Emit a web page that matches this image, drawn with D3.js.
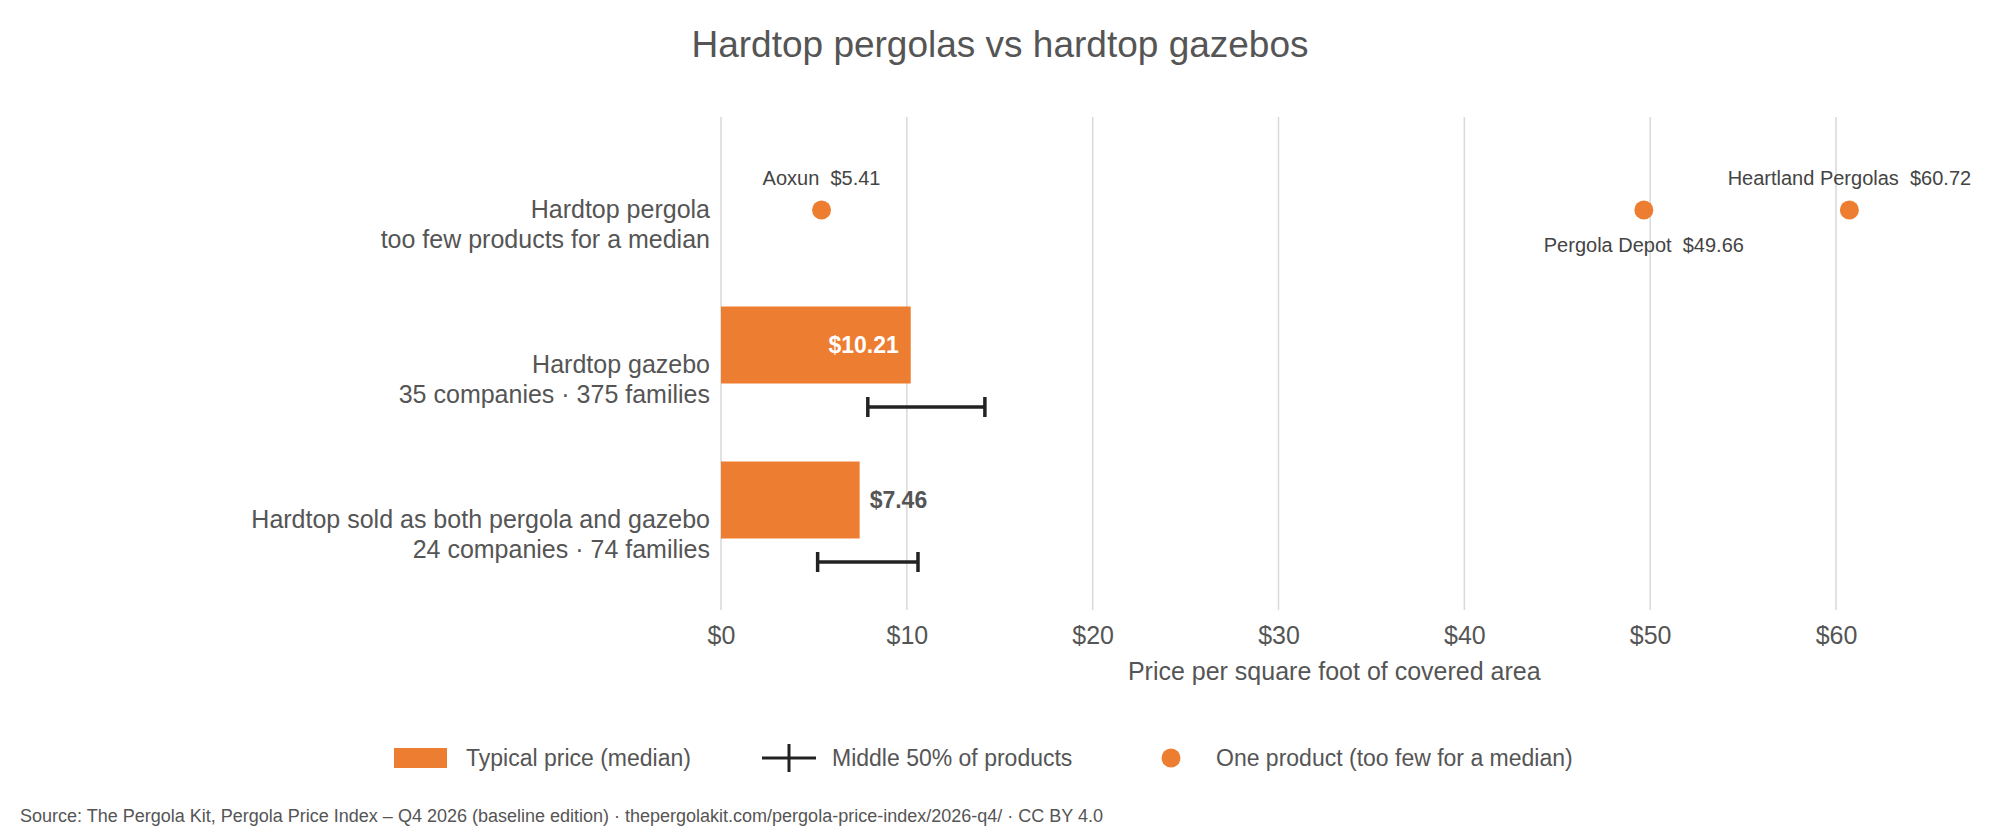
<!DOCTYPE html>
<html>
<head>
<meta charset="utf-8">
<script src="https://cdn.jsdelivr.net/npm/d3@7"></script>
<style>
  body { margin: 0; background: #fff; }
  text { font-family: "Liberation Sans", Arial, sans-serif; }
</style>
</head>
<body>
<svg id="chart" width="2000" height="840"></svg>
<script>
// data
var categories = ["Hardtop pergola", "Hardtop gazebo", "Hardtop sold as both pergola and gazebo"];
var subtitles = ["too few products for a median", "35 companies · 375 families", "24 companies · 74 families"];
var medians = [null, 10.21, 7.46];
var q1 = [null, 7.9, 5.2];
var q3 = [null, 14.2, 10.6];
var singleNames = ["Aoxun", "Pergola Depot", "Heartland Pergolas"];
var singleValues = [5.41, 49.66, 60.72];
var singleLabelAbove = [true, false, true];
var xTicks = [0, 10, 20, 30, 40, 50, 60];

var svg = d3.select("#chart");
var orange = "#ED7D31", grey = "#555555";

var x = d3.scaleLinear().domain([0, 60]).range([721, 1836]);
var y = d3.scalePoint().domain(categories).range([223, 533]);

// title
svg.append("text").attr("x", 1000).attr("y", 57).attr("text-anchor", "middle")
    .style("font-size", "37px").style("fill", grey).text("Hardtop pergolas vs hardtop gazebos");

// gridlines
svg.append("g").selectAll("line").data(xTicks).enter().append("line")
    .attr("x1", function (d) { return x(d); }).attr("x2", function (d) { return x(d); })
    .attr("y1", 117).attr("y2", 610)
    .style("stroke", "#d9d9d9").style("stroke-width", 1.5);

// x axis
var xAxis = svg.append("g").attr("transform", "translate(0,610)")
    .call(d3.axisBottom(x).tickValues(xTicks).tickSize(0).tickPadding(16).tickFormat(function (d) { return "$" + d; }));
xAxis.select(".domain").remove();
xAxis.selectAll("text").style("font-size", "25px").style("fill", grey)
    .style("font-family", "Liberation Sans, Arial, sans-serif");
svg.append("text").attr("x", x(33)).attr("y", 680).attr("text-anchor", "middle")
    .style("font-size", "25px").style("fill", grey).text("Price per square foot of covered area");

// category labels
var lab = svg.append("g").selectAll("text").data(categories).enter().append("text")
    .attr("x", 710).attr("y", function (d) { return y(d); }).attr("text-anchor", "end")
    .style("font-size", "25px").style("fill", grey);
lab.append("tspan").attr("x", 710).attr("dy", "-0.2em").text(function (d) { return d; });
lab.append("tspan").attr("x", 710).attr("dy", "1.2em").text(function (d, i) { return subtitles[i]; });

// bars
var rows = categories.map(function (c, i) { return { cat: c, med: medians[i], lo: q1[i], hi: q3[i] }; })
    .filter(function (d) { return d.med !== null; });
var barH = 77;
svg.append("g").selectAll("rect").data(rows).enter().append("rect")
    .attr("x", x(0)).attr("y", function (d) { return y(d.cat) - 33 - barH / 2; })
    .attr("width", function (d) { return x(d.med) - x(0); }).attr("height", barH)
    .style("fill", orange);
svg.append("g").selectAll("text").data(rows).enter().append("text")
    .attr("x", function (d) { return d.med > 9 ? x(d.med) - 12 : x(d.med) + 10; })
    .attr("y", function (d) { return y(d.cat) - 33; }).attr("dy", "0.35em")
    .attr("text-anchor", function (d) { return d.med > 9 ? "end" : "start"; })
    .style("font-size", "23px").style("font-weight", "bold")
    .style("fill", function (d) { return d.med > 9 ? "#fff" : grey; })
    .text(function (d) { return "$" + d.med.toFixed(2); });

// IQR whiskers
var err = svg.append("g").selectAll("g").data(rows).enter().append("g")
    .attr("transform", function (d) { return "translate(0," + (y(d.cat) + 29) + ")"; })
    .style("stroke", "#222").style("stroke-width", 3.5);
err.append("line").attr("x1", function (d) { return x(d.lo); }).attr("x2", function (d) { return x(d.hi); });
err.append("line").attr("x1", function (d) { return x(d.lo); }).attr("x2", function (d) { return x(d.lo); }).attr("y1", -10).attr("y2", 10);
err.append("line").attr("x1", function (d) { return x(d.hi); }).attr("x2", function (d) { return x(d.hi); }).attr("y1", -10).attr("y2", 10);

// single products
var py = y(categories[0]) - 13;
svg.append("g").selectAll("circle").data(singleValues).enter().append("circle")
    .attr("cx", function (d) { return x(d); }).attr("cy", py).attr("r", 9.5).style("fill", orange);
svg.append("g").selectAll("text").data(singleValues).enter().append("text")
    .attr("x", function (d) { return x(d); })
    .attr("y", function (d, i) { return singleLabelAbove[i] ? py - 25 : py + 42; })
    .attr("text-anchor", "middle").style("font-size", "20px").style("fill", "#444")
    .attr("xml:space", "preserve")
    .text(function (d, i) { return singleNames[i] + "  $" + d.toFixed(2); });

// legend
var lg = svg.append("g").attr("transform", "translate(0,758)");
lg.append("rect").attr("x", 394).attr("y", -10).attr("width", 53).attr("height", 20).style("fill", orange);
lg.append("text").attr("x", 466).attr("dy", "0.35em").style("font-size", "23px").style("fill", grey).text("Typical price (median)");
lg.append("line").attr("x1", 762).attr("x2", 816).style("stroke", "#222").style("stroke-width", 3);
lg.append("line").attr("x1", 789).attr("x2", 789).attr("y1", -14).attr("y2", 14).style("stroke", "#222").style("stroke-width", 3);
lg.append("text").attr("x", 832).attr("dy", "0.35em").style("font-size", "23px").style("fill", grey).text("Middle 50% of products");
lg.append("circle").attr("cx", 1171).attr("r", 9.5).style("fill", orange);
lg.append("text").attr("x", 1216).attr("dy", "0.35em").style("font-size", "23px").style("fill", grey).text("One product (too few for a median)");

// source
svg.append("text").attr("x", 20).attr("y", 822).style("font-size", "18px").style("fill", grey)
    .text("Source: The Pergola Kit, Pergola Price Index – Q4 2026 (baseline edition) · thepergolakit.com/pergola-price-index/2026-q4/ · CC BY 4.0");
</script>
</body>
</html>
